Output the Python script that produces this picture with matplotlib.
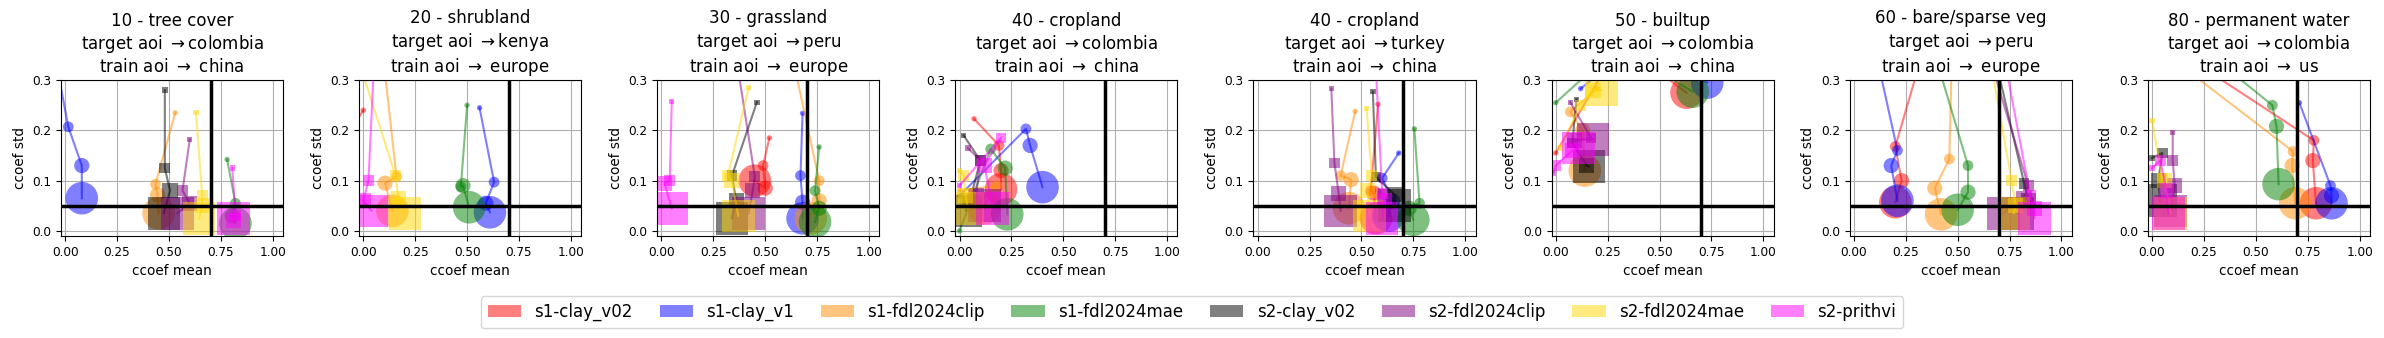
import numpy as np
import matplotlib
matplotlib.use("Agg")
import matplotlib.pyplot as plt
from matplotlib.patches import Patch

nan = np.nan

# panel titles
class_names = ["10 - tree cover", "20 - shrubland", "30 - grassland", "40 - cropland",
               "40 - cropland", "50 - builtup", "60 - bare/sparse veg", "80 - permanent water"]
target_aois = ["colombia", "kenya", "peru", "colombia", "turkey", "colombia", "peru", "colombia"]
train_aois = ["china", "europe", "europe", "china", "china", "china", "europe", "us"]

models = ["s1-clay_v02", "s1-clay_v1", "s1-fdl2024clip", "s1-fdl2024mae",
          "s2-clay_v02", "s2-fdl2024clip", "s2-fdl2024mae", "s2-prithvi"]

# ccoef mean / std per panel, 4 steps each (nan = not shown)
s1_clay_v02_mean = [[nan, nan, nan, nan], [0.0, -0.06, nan, nan], [0.52, 0.49, 0.50, 0.45],
                    [0.07, 0.19, 0.20, 0.20], [0.58, 0.545, 0.56, 0.57], [0.0, 0.22, 0.45, 0.63],
                    [0.30, 0.20, 0.23, 0.20], [0.30, 0.78, 0.775, 0.79]]
s1_clay_v02_std = [[nan, nan, nan, nan], [0.24, 0.20, nan, nan], [0.185, 0.13, 0.085, 0.10],
                   [0.223, 0.17, 0.12, 0.083], [0.252, 0.08, 0.075, 0.025], [0.155, 0.31, 0.33, 0.275],
                   [0.31, 0.168, 0.10, 0.057], [0.31, 0.18, 0.14, 0.055]]

s1_clay_v1_mean = [[-0.05, 0.015, 0.08, 0.08], [0.56, 0.63, 0.59, 0.61], [0.68, 0.67, 0.68, 0.68],
                   [0.0, 0.32, 0.34, 0.40], [0.68, 0.60, 0.65, 0.63], [0.12, 0.20, 0.50, 0.73],
                   [0.13, 0.21, 0.18, 0.21], [0.71, 0.86, 0.865, 0.865]]
s1_clay_v1_std = [[0.35, 0.207, 0.13, 0.065], [0.245, 0.097, 0.055, 0.037], [0.234, 0.11, 0.057, 0.025],
                  [0.07, 0.203, 0.17, 0.087], [0.155, 0.105, 0.06, 0.03], [0.283, 0.31, 0.34, 0.295],
                  [0.31, 0.16, 0.13, 0.06], [0.255, 0.09, 0.07, 0.055]]

s1_fdl2024clip_mean = [[0.53, 0.435, 0.445, 0.45], [0.10, 0.16, 0.105, 0.14], [0.65, 0.76, 0.76, 0.72],
                       [0.0, 0.18, 0.10, 0.12], [0.47, 0.40, 0.45, 0.44], [0.20, 0.07, 0.13, 0.14],
                       [0.47, 0.46, 0.39, 0.42], [0.20, 0.68, 0.675, 0.69]]
s1_fdl2024clip_std = [[0.235, 0.093, 0.072, 0.035], [0.33, 0.108, 0.095, 0.04], [0.31, 0.10, 0.06, 0.025],
                      [0.08, 0.09, 0.06, 0.045], [0.238, 0.11, 0.102, 0.045], [0.283, 0.237, 0.20, 0.12],
                      [0.31, 0.143, 0.085, 0.033], [0.31, 0.158, 0.13, 0.055]]

s1_fdl2024mae_mean = [[0.78, 0.82, 0.805, 0.82], [0.50, 0.47, 0.48, 0.51], [0.76, 0.74, 0.76, 0.74],
                      [0.0, 0.15, 0.22, 0.23], [0.755, 0.78, 0.73, 0.75], [0.0, 0.20, 0.40, 0.66],
                      [0.42, 0.55, 0.55, 0.50], [0.40, 0.58, 0.60, 0.61]]
s1_fdl2024mae_std = [[0.142, 0.055, 0.03, 0.015], [0.25, 0.088, 0.09, 0.047], [0.167, 0.08, 0.045, 0.018],
                     [0.0, 0.163, 0.125, 0.033], [0.203, 0.055, 0.045, 0.022], [0.255, 0.33, 0.34, 0.277],
                     [0.31, 0.13, 0.077, 0.042], [0.31, 0.25, 0.208, 0.093]]

s2_clay_v02_mean = [[0.48, 0.48, 0.505, 0.475], [nan, nan, nan, nan], [0.46, 0.34, 0.36, 0.34],
                    [0.02, 0.10, 0.05, 0.03], [0.555, 0.57, 0.66, 0.66], [0.10, 0.08, 0.15, 0.16],
                    [0.70, 0.82, 0.84, 0.79], [0.0, 0.05, 0.03, 0.04]]
s2_clay_v02_std = [[0.28, 0.125, 0.08, 0.035], [nan, nan, nan, nan], [0.256, 0.11, 0.06, 0.025],
                   [0.19, 0.14, 0.06, 0.04], [0.277, 0.107, 0.072, 0.05], [0.262, 0.175, 0.13, 0.128],
                   [0.31, 0.095, 0.06, 0.035], [0.145, 0.155, 0.10, 0.06]]

s2_fdl2024clip_mean = [[0.60, 0.565, 0.60, 0.54], [nan, nan, nan, nan], [0.37, 0.45, 0.44, 0.42],
                       [0.04, 0.10, 0.08, 0.12], [0.355, 0.37, 0.39, 0.40], [0.07, 0.17, 0.09, 0.18],
                       [0.68, 0.84, 0.82, 0.72], [0.10, 0.10, 0.11, 0.09]]
s2_fdl2024clip_std = [[0.182, 0.08, 0.055, 0.035], [nan, nan, nan, nan], [0.32, 0.108, 0.08, 0.035],
                      [0.165, 0.14, 0.07, 0.05], [0.283, 0.135, 0.075, 0.04], [0.256, 0.185, 0.18, 0.182],
                      [0.31, 0.09, 0.065, 0.035], [0.196, 0.14, 0.09, 0.04]]

s2_fdl2024mae_mean = [[0.63, 0.66, 0.66, 0.645], [0.0, 0.155, 0.17, 0.20], [0.42, 0.32, 0.34, 0.37],
                      [0.0, 0.02, 0.03, 0.04], [0.525, 0.55, 0.53, 0.54], [0.02, 0.12, 0.18, 0.22],
                      [0.67, 0.76, 0.78, 0.77], [0.0, 0.05, 0.06, 0.09]]
s2_fdl2024mae_std = [[0.236, 0.07, 0.05, 0.025], [0.31, 0.11, 0.065, 0.035], [0.285, 0.11, 0.10, 0.03],
                     [0.12, 0.11, 0.07, 0.045], [0.243, 0.11, 0.08, 0.03], [0.165, 0.25, 0.28, 0.28],
                     [0.31, 0.10, 0.05, 0.035], [0.22, 0.105, 0.10, 0.035]]

s2_prithvi_mean = [[0.805, 0.82, 0.81, 0.81], [0.05, 0.025, 0.0, 0.04], [0.05, 0.04, 0.015, 0.05],
                   [0.0, 0.20, 0.12, 0.16], [0.57, 0.60, 0.61, 0.60], [-0.01, 0.0, 0.08, 0.11],
                   [0.74, 0.85, 0.87, 0.87], [0.0, 0.04, 0.07, 0.08]]
s2_prithvi_std = [[0.125, 0.03, 0.02, 0.025], [0.32, 0.10, 0.06, 0.04], [0.258, 0.10, 0.095, 0.045],
                  [0.09, 0.185, 0.13, 0.045], [0.32, 0.075, 0.06, 0.025], [0.115, 0.13, 0.16, 0.165],
                  [0.31, 0.07, 0.045, 0.025], [0.125, 0.14, 0.08, 0.035]]

means = [s1_clay_v02_mean, s1_clay_v1_mean, s1_fdl2024clip_mean, s1_fdl2024mae_mean,
         s2_clay_v02_mean, s2_fdl2024clip_mean, s2_fdl2024mae_mean, s2_prithvi_mean]
stds = [s1_clay_v02_std, s1_clay_v1_std, s1_fdl2024clip_std, s1_fdl2024mae_std,
        s2_clay_v02_std, s2_fdl2024clip_std, s2_fdl2024mae_std, s2_prithvi_std]

colors = ["red", "blue", "darkorange", "green", "black", "purple", "gold", "magenta"]
step_sizes = [15, 60, 120, 550]

fig, axes = plt.subplots(1, 8, figsize=(23.84, 3.38), dpi=100)
fig.subplots_adjust(left=0.0256, right=0.9941, top=0.763, bottom=0.302, wspace=0.342)

for p, ax in enumerate(axes):
    for m, name in enumerate(models):
        x = np.array(means[m][p])
        y = np.array(stds[m][p])
        marker = "o" if name.startswith("s1") else "s"
        ax.plot(x, y, color=colors[m], alpha=0.5, lw=1.5, zorder=2)
        ax.scatter(x, y, s=step_sizes, color=colors[m], alpha=0.5, marker=marker,
                   linewidths=0, zorder=2)

    ax.axvline(0.7, color="black", lw=2.5, zorder=3)
    ax.axhline(0.05, color="black", lw=2.5, zorder=3)
    ax.set_xlim(-0.02, 1.05)
    ax.set_ylim(-0.01, 0.3)
    ax.set_xticks([0, 0.25, 0.5, 0.75, 1.0])
    ax.set_yticks([0.0, 0.1, 0.2, 0.3])
    ax.tick_params(labelsize=8.7)
    ax.grid(True)
    ax.set_axisbelow(True)
    ax.set_xlabel("ccoef mean", fontsize=9.8)
    ax.set_ylabel("ccoef std", fontsize=9.8)
    ax.set_title(f"{class_names[p]}\ntarget aoi $\\rightarrow$" + target_aois[p]
                 + f"\ntrain aoi $\\rightarrow$ {train_aois[p]}", fontsize=12)

handles = [Patch(facecolor=c, alpha=0.5, label=n) for c, n in zip(colors, models)]
fig.legend(handles=handles, loc="lower center", ncol=8, fontsize=12,
           columnspacing=1.6, bbox_to_anchor=(0.5, 0.005))

fig.savefig("out.png", dpi=100)
